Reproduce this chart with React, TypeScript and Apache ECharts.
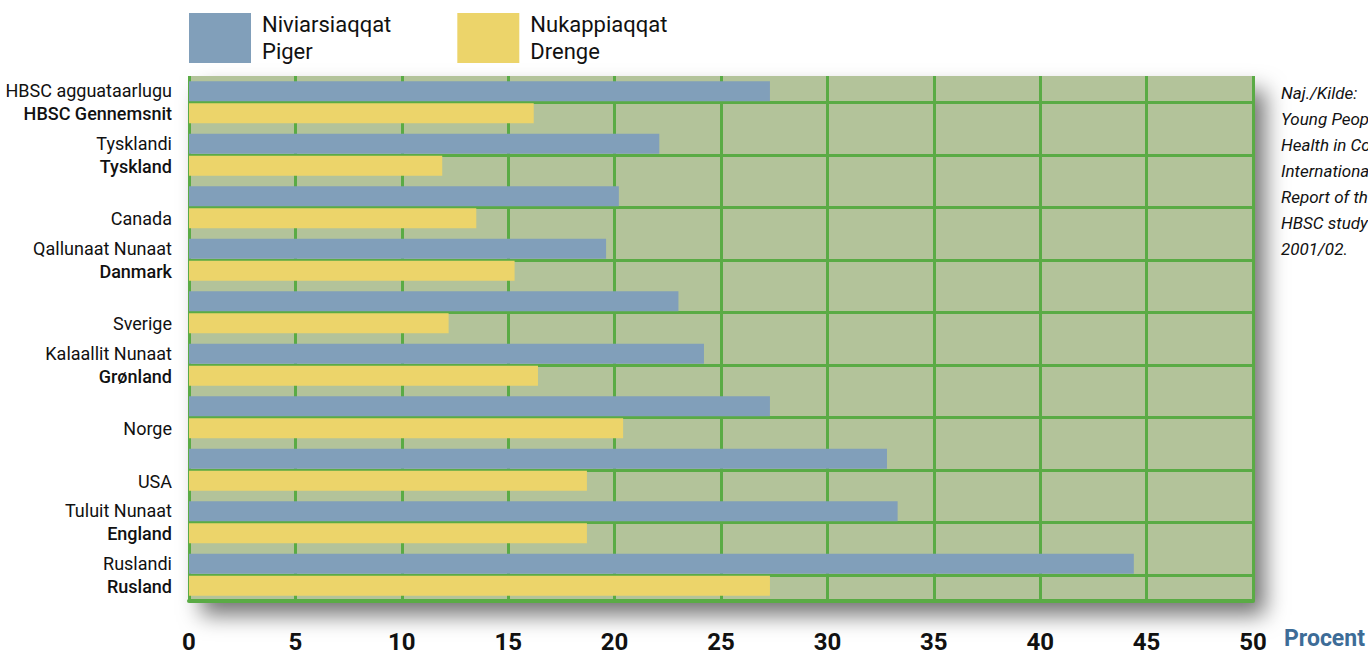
import React, { useEffect, useRef } from "react";
import * as echarts from "echarts";

const categories = ["HBSC Gennemsnit", "Tyskland", "Canada", "Danmark", "Sverige", "Grønland", "Norge", "USA", "England", "Rusland"];
const greenlandic = ["HBSC agguataarlugu", "Tysklandi", "", "Qallunaat Nunaat", "", "Kalaallit Nunaat", "", "", "Tuluit Nunaat", "Ruslandi"];
const girls = [27.3, 22.1, 20.2, 19.6, 23.0, 24.2, 27.3, 32.8, 33.3, 44.4];
const boys = [16.2, 11.9, 13.5, 15.3, 12.2, 16.4, 20.4, 18.7, 18.7, 27.3];
const seriesNames = ["Niviarsiaqqat\nPiger", "Nukappiaqqat\nDrenge"];
const xTicks = { min: 0, max: 50, interval: 5 };
const noteLines = ["Naj./Kilde:", "Young People's", "Health in Context:", "International", "Report of the", "HBSC study", "2001/02."];

const FONT = "Roboto, 'Liberation Sans', sans-serif";
const GREEN = "#5aab45";

export default function App() {
  const ref = useRef<HTMLDivElement>(null);
  useEffect(() => {
    document.body.style.margin = "0";
    const chart = echarts.init(ref.current!, null, { renderer: "svg" });
    const helperCats = Array.from({ length: 21 }, (_, i) => String(i));
    chart.setOption({
      animation: false,
      backgroundColor: "#ffffff",
      legend: {
        left: 189,
        top: 5,
        padding: 0,
        itemWidth: 62,
        itemHeight: 50,
        itemGap: 66,
        icon: "rect",
        textStyle: { fontFamily: FONT, fontSize: 22, lineHeight: 27, color: "#111", padding: [12, 0, 0, 6] },
        data: seriesNames,
      },
      grid: {
        left: 189,
        right: 115,
        top: 76,
        bottom: 52,
        containLabel: false,
        outerBoundsMode: "none",
        show: true,
        backgroundColor: "#b3c39a",
        borderWidth: 0,
        shadowColor: "rgba(0,0,0,0.55)",
        shadowBlur: 22,
        shadowOffsetX: 12,
        shadowOffsetY: 14,
      },
      xAxis: {
        type: "value",
        min: xTicks.min,
        max: xTicks.max,
        interval: xTicks.interval,
        axisLine: { show: true, lineStyle: { color: GREEN, width: 4 } },
        axisTick: { show: false },
        splitLine: { show: true, lineStyle: { color: GREEN, width: 3 } },
        axisLabel: { fontFamily: FONT, fontSize: 24, fontWeight: "bold", color: "#111", margin: 29 },
      },
      yAxis: [
        {
          type: "category",
          inverse: true,
          data: categories,
          axisLine: { show: false },
          axisTick: { show: false },
          splitLine: { show: false },
          axisLabel: {
            margin: 17,
            formatter: (v: string, i: number) => {
              const top = greenlandic[i];
              if (top) return `{a|${top}}\n{b|${v}}`;
              return `{a| }\n{a|${v}}`;
            },
            rich: {
              a: { fontFamily: FONT, fontSize: 18, lineHeight: 23, color: "#111", align: "right" },
              b: { fontFamily: FONT, fontSize: 18, lineHeight: 23, color: "#111", fontWeight: 500, align: "right" },
            },
          },
        },
        {
          type: "category",
          boundaryGap: false,
          data: helperCats,
          axisLine: { show: false },
          axisTick: { show: false },
          axisLabel: { show: false },
          splitLine: {
            show: true,
            interval: (i: number) => i % 2 === 1,
            lineStyle: { color: GREEN, width: 3 },
          },
        },
      ],
      series: [
        {
          name: seriesNames[0],
          type: "bar",
          data: girls,
          barWidth: 20,
          barGap: "10%",
          itemStyle: { color: "#819fba" },
        },
        {
          name: seriesNames[1],
          type: "bar",
          data: boys,
          barWidth: 20,
          barGap: "10%",
          itemStyle: { color: "#ecd46a" },
        },
      ],
      graphic: [
        {
          type: "text",
          left: 1284,
          top: 627,
          style: { text: "Procent", fontFamily: FONT, fontSize: 23, fontWeight: "bold", fill: "#3d6c97" },
        },
        {
          type: "text",
          left: 1281,
          top: 80,
          style: {
            text: noteLines.join("\n"),
            fontFamily: FONT,
            fontSize: 17,
            fontStyle: "italic",
            lineHeight: 26,
            fill: "#111",
          },
        },
      ],
    });
    return () => chart.dispose();
  }, []);
  return <div ref={ref} style={{ width: 1368, height: 653 }} />;
}
